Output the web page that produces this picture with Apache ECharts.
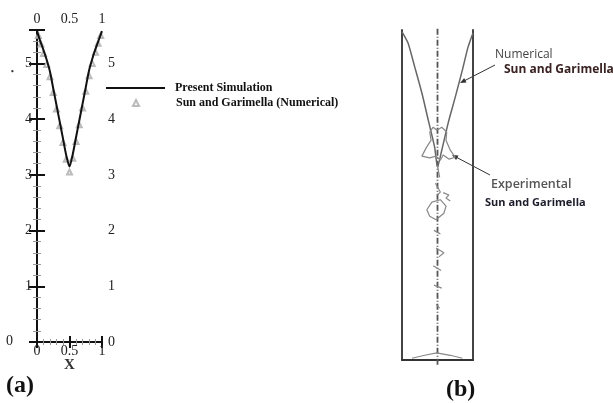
<!DOCTYPE html>
<html>
<head>
<meta charset="utf-8">
<script src="https://cdn.jsdelivr.net/npm/echarts@6/dist/echarts.min.js"></script>
<style>html,body{margin:0;padding:0;background:#fff}#c{width:613px;height:403px}</style>
</head>
<body>
<div id="c"></div>
<script>
// Panel (a): present simulation (line) and Sun & Garimella numerical (triangles)
var simX = [0, 0.05, 0.1, 0.15, 0.2, 0.25, 0.3, 0.35, 0.4, 0.45, 0.5, 0.55, 0.6, 0.65, 0.7, 0.75, 0.8, 0.85, 0.9, 0.95, 1];
var simY = [5.58, 5.40, 5.24, 5.06, 4.85, 4.55, 4.25, 3.95, 3.65, 3.35, 3.15, 3.37, 3.67, 3.97, 4.27, 4.57, 4.87, 5.08, 5.26, 5.42, 5.58];
var numX = [0.02, 0.06, 0.1, 0.15, 0.2, 0.25, 0.3, 0.35, 0.4, 0.45, 0.5, 0.55, 0.6, 0.65, 0.7, 0.75, 0.8, 0.85, 0.9, 0.94, 0.98];
var numY = [5.50, 5.35, 5.18, 4.98, 4.76, 4.48, 4.18, 3.88, 3.58, 3.28, 3.05, 3.30, 3.60, 3.90, 4.20, 4.50, 4.78, 5.00, 5.20, 5.36, 5.50];

// Panel (b): numerical profile and experimental outline (same units)
var bNumX = [0, 0.085, 0.18, 0.28, 0.37, 0.46, 0.5, 0.56, 0.65, 0.75, 0.85, 0.93, 1];
var bNumY = [5.57, 5.38, 4.97, 4.53, 4.07, 3.61, 3.27, 3.56, 4.02, 4.46, 4.92, 5.31, 5.55];
var bCenterX = [0.5, 0.5];
var bCenterY = [-0.08, 5.62];
var expX = [0.39, 0.44, 0.49, 0.56, 0.63, 0.62, 0.68, 0.75, 0.66, 0.58, 0.54, 0.48, 0.39, 0.28, 0.34, 0.41, 0.39, null,
            0.50, 0.53, null, 0.47, 0.54, 0.50, null, 0.58, 0.66, 0.62, 0.68, null,
            0.42, 0.54, 0.62, 0.59, 0.48, 0.39, 0.35, 0.42, null,
            0.45, 0.54, null, 0.48, 0.59, 0.52, null, 0.44, 0.55, null, 0.45, 0.56, null, 0.48, 0.53, null,
            0.14, 0.32, 0.49, 0.68, 0.85];
var expY = [3.87, 3.95, 3.90, 3.95, 3.87, 3.73, 3.56, 3.44, 3.41, 3.48, 3.39, 3.46, 3.43, 3.46, 3.60, 3.73, 3.87, null,
            3.30, 3.10, null, 3.00, 2.85, 2.80, null, 2.84, 2.80, 2.75, 2.70, null,
            2.68, 2.72, 2.61, 2.49, 2.38, 2.44, 2.55, 2.68, null,
            2.20, 2.14, null, 1.90, 1.82, 1.75, null, 1.60, 1.52, null, 1.27, 1.22, null, 0.95, 0.88, null,
            0.03, 0.08, 0.12, 0.08, 0.03];

function pairs(xs, ys){ return xs.map(function(x,i){ return x===null ? [null,null] : [x, ys[i]]; }); }

var serif = 'Liberation Serif';
var tickLabel = {fontFamily: serif, fontSize: 14, color: '#222'};
var legendText = {fontFamily: serif, fontWeight: 'bold', fontSize: 12, color: '#111', padding: [0,0,0,5]};
var legendText2 = {fontFamily: serif, fontWeight: 'bold', fontSize: 12, color: '#111', padding: [0,0,0,32]};

var chart = echarts.init(document.getElementById('c'), null, {renderer: 'canvas'});
chart.setOption({
  animation: false,
  backgroundColor: '#fff',
  grid: [
    {left: 37, top: 30, width: 65, height: 312},
    {left: 402, top: 30, width: 71, height: 330}
  ],
  legend: [
    {data: [{name: 'Present Simulation', icon: 'rect'}], padding: 0,
     left: 106, top: 82, itemWidth: 59, itemHeight: 2, textStyle: legendText},
    {data: [{name: 'Sun and Garimella (Numerical)', icon: 'emptyTriangle'}], padding: 0,
     left: 132, top: 97, itemWidth: 6, itemHeight: 6, textStyle: legendText2}
  ],
  xAxis: [
    {gridIndex: 0, type: 'value', min: 0, max: 1, interval: 0.5, position: 'bottom',
     name: 'X', nameLocation: 'middle', nameGap: 16, nameMoveOverlap: false,
     nameTextStyle: {fontFamily: serif, fontWeight: 'bold', fontSize: 15, color: '#333'},
     axisLine: {lineStyle: {color: '#111', width: 2}},
     axisTick: {inside: true, length: 6, lineStyle: {color: '#111', width: 2}},
     minorTick: {show: true, splitNumber: 5, length: 3, lineStyle: {color: '#999'}},
     axisLabel: Object.assign({margin: 2}, tickLabel), splitLine: {show: false}},
    {gridIndex: 0, type: 'value', min: 0, max: 1, interval: 0.5, position: 'top',
     axisLine: {lineStyle: {color: '#111', width: 2}},
     axisTick: {inside: true, length: 6, lineStyle: {color: '#111', width: 2}},
     minorTick: {show: true, splitNumber: 5, length: 3, lineStyle: {color: '#999'}},
     axisLabel: Object.assign({margin: 4}, tickLabel), splitLine: {show: false}},
    {gridIndex: 1, type: 'value', min: 0, max: 1, position: 'bottom',
     axisLine: {lineStyle: {color: '#333', width: 2}}, axisTick: {show: false},
     axisLabel: {show: false}, splitLine: {show: false}}
  ],
  yAxis: [
    {gridIndex: 0, type: 'value', min: 0, max: 5.6, interval: 1, position: 'left',
     axisLine: {lineStyle: {color: '#111', width: 2}},
     axisTick: {inside: true, length: 8, lineStyle: {color: '#111', width: 2}},
     minorTick: {show: true, splitNumber: 5, length: 4, lineStyle: {color: '#999'}},
     axisLabel: Object.assign({margin: 5, showMaxLabel: false,
       formatter: function(v){ return v === 0 ? '{z|0}' : String(v); },
       rich: {z: {fontFamily: serif, fontSize: 14, color: '#222', padding: [0, 19, 2, 0]}}}, tickLabel),
     splitLine: {show: false}},
    {gridIndex: 0, type: 'value', min: 0, max: 5.6, interval: 1, position: 'right',
     axisLine: {lineStyle: {color: '#111', width: 2}},
     axisTick: {inside: true, length: 8, lineStyle: {color: '#111', width: 2}},
     minorTick: {show: true, splitNumber: 5, length: 4, lineStyle: {color: '#999'}},
     axisLabel: Object.assign({margin: 6, showMaxLabel: false}, tickLabel), splitLine: {show: false}},
    {gridIndex: 1, type: 'value', min: 0, max: 5.6, position: 'left',
     axisLine: {lineStyle: {color: '#444', width: 2}}, axisTick: {show: false},
     axisLabel: {show: false}, splitLine: {show: false}},
    {gridIndex: 1, type: 'value', min: 0, max: 5.6, position: 'right',
     axisLine: {lineStyle: {color: '#444', width: 2}}, axisTick: {show: false},
     axisLabel: {show: false}, splitLine: {show: false}}
  ],
  series: [
    {name: 'Present Simulation', type: 'line', xAxisIndex: 0, yAxisIndex: 0,
     data: pairs(simX, simY), symbol: 'none', smooth: 0.25,
     lineStyle: {color: '#111', width: 2}, itemStyle: {color: '#111'}, z: 3},
    {name: 'Sun and Garimella (Numerical)', type: 'scatter', xAxisIndex: 0, yAxisIndex: 0,
     data: pairs(numX, numY), symbol: 'emptyTriangle', symbolSize: 5,
     itemStyle: {color: '#aaa', borderColor: '#aaa', borderWidth: 1}, z: 2},
    {name: 'centre', type: 'line', xAxisIndex: 2, yAxisIndex: 2, clip: false,
     data: pairs(bCenterX, bCenterY), symbol: 'none',
     lineStyle: {color: '#555', width: 1.8, type: [6, 2, 1, 2]}},
    {name: 'bNumerical', type: 'line', xAxisIndex: 2, yAxisIndex: 2, clip: false,
     data: pairs(bNumX, bNumY), symbol: 'none', smooth: 0.2,
     lineStyle: {color: '#666', width: 1.5}},
    {name: 'bExperimental', type: 'line', xAxisIndex: 2, yAxisIndex: 2, clip: false,
     data: pairs(expX, expY), symbol: 'none', connectNulls: false,
     lineStyle: {color: '#888', width: 1.2}}
  ],
  graphic: [
    {type: 'text', left: 11, top: 68, style: {text: '•', font: 'bold 8px ' + serif, fill: '#333'}},
    {type: 'line', shape: {x1: 495, y1: 65, x2: 462, y2: 82}, style: {stroke: '#333', lineWidth: 1}},
    {type: 'polygon', shape: {points: [[460, 83], [466.5, 82.5], [464.2, 78.1]]}, style: {fill: '#333'}},
    {type: 'line', shape: {x1: 490, y1: 175, x2: 454, y2: 156}, style: {stroke: '#333', lineWidth: 1}},
    {type: 'polygon', shape: {points: [[452, 155], [458.5, 155.6], [456.1, 160.0]]}, style: {fill: '#333'}},
    {type: 'text', left: 495, top: 49, style: {text: 'Numerical', font: '12px "Open Sans"', fill: '#444'}},
    {type: 'text', left: 504, top: 64, style: {text: 'Sun and Garimella', font: 'bold 12px "Open Sans"', fill: '#3a2222'}},
    {type: 'text', left: 491, top: 178, style: {text: 'Experimental', font: '600 12.5px "Open Sans"', fill: '#555'}},
    {type: 'text', left: 485, top: 197, style: {text: 'Sun and Garimella', font: 'bold 11px "Open Sans"', fill: '#1c1c2a'}},
    {type: 'text', left: 6, top: 374, style: {text: '(a)', font: 'bold 24px ' + serif, fill: '#111'}},
    {type: 'text', left: 446, top: 378, style: {text: '(b)', font: 'bold 24px ' + serif, fill: '#111'}}
  ]
});
</script>
</body>
</html>
